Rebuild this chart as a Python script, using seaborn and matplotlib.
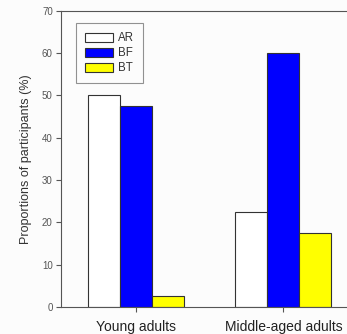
import matplotlib
matplotlib.use("Agg")
import matplotlib.pyplot as plt
import seaborn as sns
import pandas as pd

# Share of participants per group and category
groups = ["Young adults", "Middle-aged adults"]
categories = ["AR", "BF", "BT"]
ar_values = [50.0, 22.5]
bf_values = [47.5, 60.0]
bt_values = [2.5, 17.5]
bar_colors = ["#ffffff", "#0000ff", "#ffff00"]
y_ticks = [0, 10, 20, 30, 40, 50, 60, 70]

df = pd.DataFrame({
    "group": groups * 3,
    "category": [c for c in categories for _ in groups],
    "value": ar_values + bf_values + bt_values,
})

sns.set_style("white")
plt.rcParams["font.family"] = ["Liberation Sans", "DejaVu Sans"]

fig = plt.figure(figsize=(3.47, 3.34), dpi=100, facecolor="#fcfcfc")
ax = fig.add_axes([0.176, 0.081, 0.824, 0.887])
ax.set_facecolor("#fcfcfc")

sns.barplot(data=df, x="group", y="value", hue="category",
            order=groups, hue_order=categories,
            palette=bar_colors, width=0.65, saturation=1,
            edgecolor="#333333", linewidth=0.8, ax=ax)

ax.set_xlim(-0.509, 1.432)
ax.set_ylim(0, 70)
ax.set_yticks(y_ticks)
ax.set_xlabel("")
ax.set_ylabel("Proportions of participants (%)", fontsize=9,
              color="#333333", labelpad=7)

ax.tick_params(axis="y", direction="out", length=3.5, width=0.8,
               labelsize=7, labelcolor="#555555", color="#555555", pad=2.5,
               left=True)
ax.tick_params(axis="x", direction="out", length=3.5, width=0.8,
               labelsize=10, labelcolor="#222222", color="#555555", pad=6,
               bottom=True)

for side in ["left", "top", "bottom"]:
    ax.spines[side].set_visible(True)
    ax.spines[side].set_color("#555555")
    ax.spines[side].set_linewidth(0.8)
ax.spines["right"].set_visible(False)

leg = ax.legend(loc="upper left", bbox_to_anchor=(0.051, 0.958),
                fontsize=8.3, frameon=True, fancybox=False,
                edgecolor="#777777", handlelength=2.4, handleheight=0.85,
                handletextpad=0.45, labelspacing=0.25, borderpad=0.8,
                borderaxespad=0)
leg.get_frame().set_linewidth(0.8)
leg.get_frame().set_facecolor("#fcfcfc")
for t in leg.get_texts():
    t.set_color("#333333")

fig.savefig("out.png", dpi=100, facecolor=fig.get_facecolor())
